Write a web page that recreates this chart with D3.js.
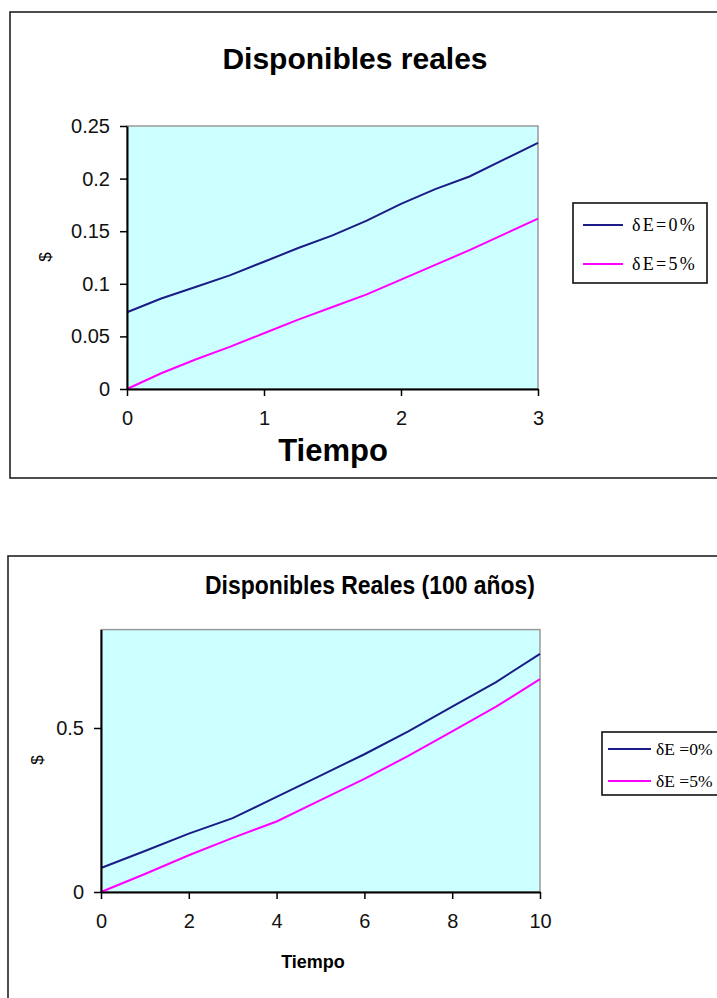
<!DOCTYPE html>
<html>
<head>
<meta charset="utf-8">
<script src="https://cdn.jsdelivr.net/npm/d3@7"></script>
<style>
  body { margin: 0; background: #fff; }
  svg { display: block; }
</style>
</head>
<body>
<svg id="chart" width="717" height="998"></svg>
<script>
// chart 1: Disponibles reales (3 años)
const tiempo1 = [0, 0.25, 0.5, 0.75, 1, 1.25, 1.5, 1.75, 2, 2.25, 2.5, 2.75, 3];
const serie0_1 = [0.073, 0.086, 0.097, 0.108, 0.121, 0.134, 0.146, 0.16, 0.176, 0.19, 0.202, 0.218, 0.234];
const serie5_1 = [0, 0.015, 0.028, 0.04, 0.053, 0.066, 0.078, 0.09, 0.104, 0.118, 0.132, 0.147, 0.162];
const yTicks1 = [0, 0.05, 0.1, 0.15, 0.2, 0.25];
const yLabels1 = ["0", "0.05", "0.1", "0.15", "0.2", "0.25"];
const xTicks1 = [0, 1, 2, 3];

// chart 2: Disponibles Reales (100 años)
const tiempo2 = [0, 1, 2, 3, 4, 5, 6, 7, 8, 9, 10];
const serie0_2 = [0.073, 0.125, 0.178, 0.225, 0.29, 0.355, 0.42, 0.49, 0.565, 0.64, 0.726];
const serie5_2 = [0, 0.055, 0.112, 0.165, 0.215, 0.28, 0.345, 0.415, 0.49, 0.565, 0.649];
const yTicks2 = [0, 0.5];
const yLabels2 = ["0", "0.5"];
const xTicks2 = [0, 2, 4, 6, 8, 10];

const seriesNames = ["δE=0%", "δE=5%"];
const seriesNames2 = ["δE =0%", "δE =5%"];
const colors = ["#1c1c86", "#ff00ff"];

const svg = d3.select("#chart");

function drawChart(o) {
  const g = svg.append("g");

  g.append("rect")
    .attr("x", o.box[0]).attr("y", o.box[1])
    .attr("width", o.box[2]).attr("height", o.box[3])
    .attr("fill", "#fff").attr("stroke", "#222").attr("stroke-width", 1.6);

  const x = d3.scaleLinear().domain(o.xDomain).range([o.plot.left, o.plot.right]);
  const y = d3.scaleLinear().domain(o.yDomain).range([o.plot.bottom, o.plot.top]);

  // plot area
  g.append("rect")
    .attr("x", o.plot.left).attr("y", o.plot.top)
    .attr("width", o.plot.right - o.plot.left)
    .attr("height", o.plot.bottom - o.plot.top)
    .attr("fill", "#ccffff").attr("stroke", "#9a9a9a").attr("stroke-width", 1.5);

  // series
  const line = d3.line().x(d => x(d[0])).y(d => y(d[1]));
  o.series.forEach((s, i) => {
    g.append("path")
      .datum(o.xs.map((t, k) => [t, s[k]]))
      .attr("d", line)
      .attr("fill", "none")
      .attr("stroke", colors[i])
      .attr("stroke-width", 2);
  });

  // axes
  const yAxis = d3.axisLeft(y)
    .tickValues(o.yTicks)
    .tickFormat((d, i) => o.yLabels[i])
    .tickSize(7).tickSizeOuter(0).tickPadding(10);
  const ya = g.append("g").attr("transform", `translate(${o.plot.left},0)`).call(yAxis);

  const xAxis = d3.axisBottom(x)
    .tickValues(o.xTicks)
    .tickFormat(d3.format("d"))
    .tickSize(7).tickSizeOuter(0).tickPadding(o.xPad);
  const xa = g.append("g").attr("transform", `translate(0,${o.plot.bottom})`).call(xAxis);

  [ya, xa].forEach(a => {
    a.select(".domain").attr("stroke", "#000").attr("stroke-width", 2);
    a.selectAll(".tick line").attr("stroke", "#000").attr("stroke-width", 1.5);
    a.selectAll(".tick text")
      .attr("fill", "#111")
      .style("font-family", "Arial, 'Liberation Sans', sans-serif")
      .style("font-size", o.tickFont + "px");
  });

  // titles
  const t = g.append("text")
    .attr("x", o.title.x).attr("y", o.title.y)
    .attr("text-anchor", "middle")
    .style("font-family", "Arial, 'Liberation Sans', sans-serif")
    .style("font-size", o.title.size + "px")
    .style("font-weight", "bold")
    .text(o.title.text);
  if (o.title.len) t.attr("textLength", o.title.len).attr("lengthAdjust", "spacingAndGlyphs");

  g.append("text")
    .attr("x", o.xTitle.x).attr("y", o.xTitle.y)
    .attr("text-anchor", "middle")
    .style("font-family", "Arial, 'Liberation Sans', sans-serif")
    .style("font-size", o.xTitle.size + "px")
    .style("font-weight", "bold")
    .text("Tiempo");

  g.append("text")
    .attr("transform", `translate(${o.yTitle.x},${o.yTitle.y}) rotate(-90)`)
    .attr("text-anchor", "middle")
    .attr("dy", "0.35em")
    .style("font-family", "Arial, 'Liberation Sans', sans-serif")
    .style("font-size", o.yTitle.size + "px")
    .text("$");

  // legend
  const L = o.legend;
  g.append("rect")
    .attr("x", L.x).attr("y", L.y).attr("width", L.w).attr("height", L.h)
    .attr("fill", "#fff").attr("stroke", "#111").attr("stroke-width", 1.6);
  o.names.forEach((n, i) => {
    const ly = L.rows[i];
    g.append("line")
      .attr("x1", L.lx1).attr("x2", L.lx2).attr("y1", ly).attr("y2", ly)
      .attr("stroke", colors[i]).attr("stroke-width", 2);
    g.append("text")
      .attr("x", L.tx).attr("y", ly).attr("dy", "0.35em")
      .style("font-family", "'Liberation Serif', 'Times New Roman', serif")
      .style("font-size", L.size + "px")
      .style("letter-spacing", L.spacing + "px")
      .text(n);
  });
}

drawChart({
  box: [10, 12, 720, 466],
  plot: { left: 127, right: 538, top: 126, bottom: 389 },
  xDomain: [0, 3], yDomain: [0, 0.25],
  xs: tiempo1, series: [serie0_1, serie5_1],
  yTicks: yTicks1, yLabels: yLabels1, xTicks: xTicks1,
  tickFont: 20, xPad: 15,
  title: { text: "Disponibles reales", x: 355, y: 69, size: 30 },
  xTitle: { x: 333, y: 461, size: 31 },
  yTitle: { x: 45, y: 257, size: 17 },
  names: seriesNames,
  legend: { x: 573, y: 203, w: 134, h: 80, rows: [225, 264], lx1: 583, lx2: 623, tx: 632, size: 18, spacing: 2.3 }
});

drawChart({
  box: [8, 556, 720, 460],
  plot: { left: 101, right: 540, top: 629.6, bottom: 892 },
  xDomain: [0, 10], yDomain: [0, 0.8],
  xs: tiempo2, series: [serie0_2, serie5_2],
  yTicks: yTicks2, yLabels: yLabels2, xTicks: xTicks2,
  tickFont: 20, xPad: 15,
  title: { text: "Disponibles Reales (100 años)", x: 370, y: 594, size: 26, len: 330 },
  xTitle: { x: 313, y: 968, size: 18 },
  yTitle: { x: 37, y: 760, size: 17 },
  names: seriesNames2,
  legend: { x: 602, y: 732, w: 130, h: 63, rows: [749, 781], lx1: 608, lx2: 651, tx: 656, size: 17.5, spacing: 0 }
});
</script>
</body>
</html>
